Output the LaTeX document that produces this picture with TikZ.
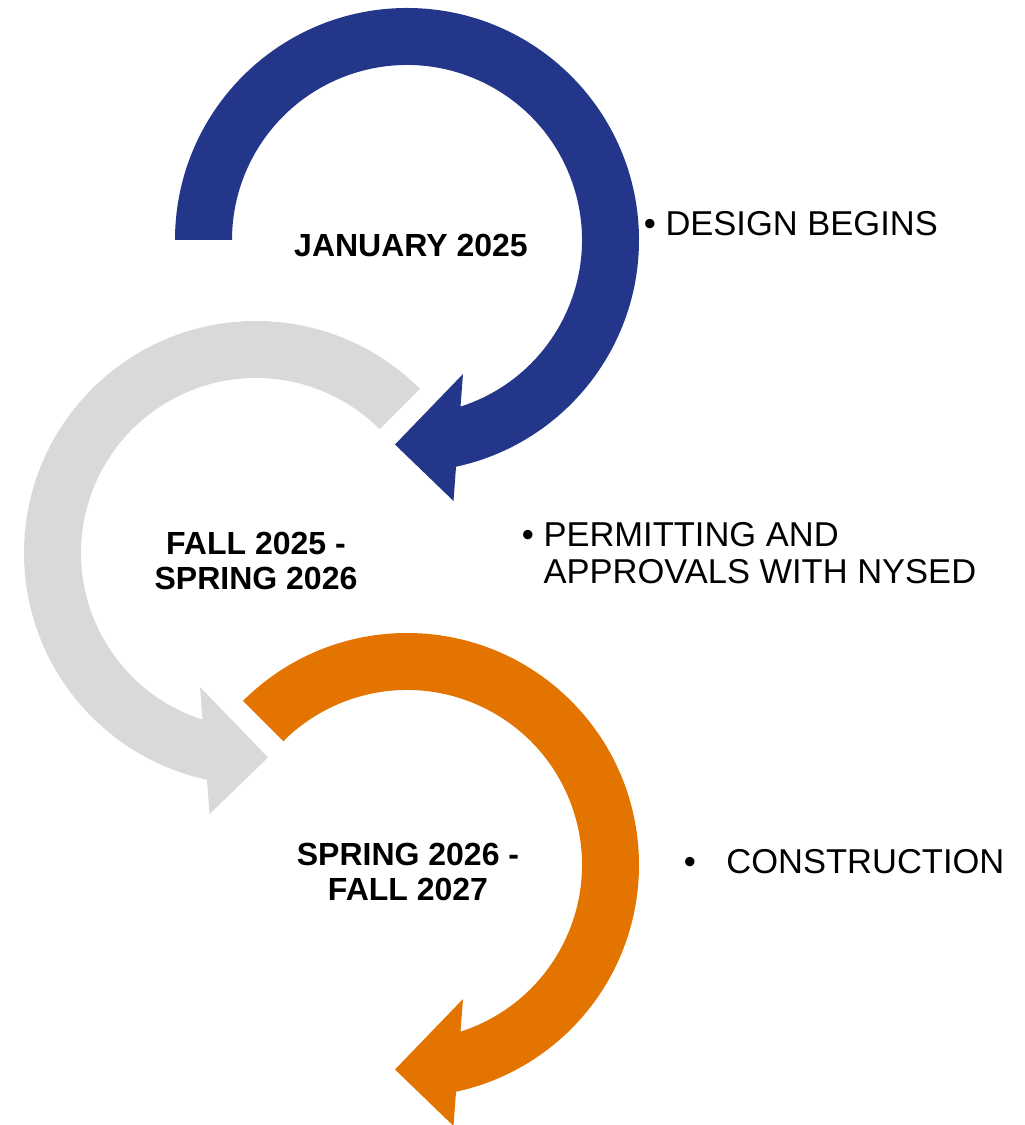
\documentclass[tikz,border=0pt]{standalone}
\usepackage{fontspec}
\setmainfont{Liberation Sans}
\usetikzlibrary{calc}
\definecolor{navyarc}{RGB}{35,54,137}
\definecolor{greyarc}{RGB}{217,217,217}
\definecolor{orangearc}{RGB}{227,116,0}
\tikzset{
    turn_arrow/.style={insert path={(#1:175) -- (#1:232)
        arc[start angle=#1, end angle=-77.8, radius=232]
        -- (46.5,-261) -- (-12,-204.5) -- (56,-134) -- (-72.2:175)
        arc[start angle=-72.2, end angle=#1, radius=175] -- cycle}},
    date_label/.style={font=\fontsize{16}{17.5}\selectfont\bfseries, align=center},
    note_label/.style={font=\fontsize{17.25}{18.5}\selectfont, align=left, anchor=base west, inner sep=0pt},
}
\begin{document}
\begin{tikzpicture}
        [x=0.5pt, y=0.5pt]

        \useasboundingbox (0,0) rectangle (1024,1125);

        % Circular arrows
        \fill[navyarc, shift={(407,885)}, turn_arrow=180];
        \fill[greyarc, shift={(256,572)}, xscale=-1, turn_arrow=135];
        \fill[orangearc, shift={(407,260)}, turn_arrow=135];

        % Dates inside the arrows
        \node[date_label] (january) at (411,880) {JANUARY 2025};
        \node[date_label] (fall) at (256,564.5) {FALL 2025 -\\SPRING 2026};
        \node[date_label] (spring) at (408,253.5) {SPRING 2026 -\\FALL 2027};

        % Notes on the right
        \node[note_label] (design) at (643.5,889) {\textbullet\ DESIGN BEGINS};
        \node[note_label] (permits) at (521.5,541) {\textbullet\ PERMITTING AND\\\phantom{\textbullet\ }APPROVALS WITH NYSED};
        \node[note_label] (build) at (683.5,251) {\textbullet\hspace{15.25pt}CONSTRUCTION};

    \end{tikzpicture}
\end{document}
